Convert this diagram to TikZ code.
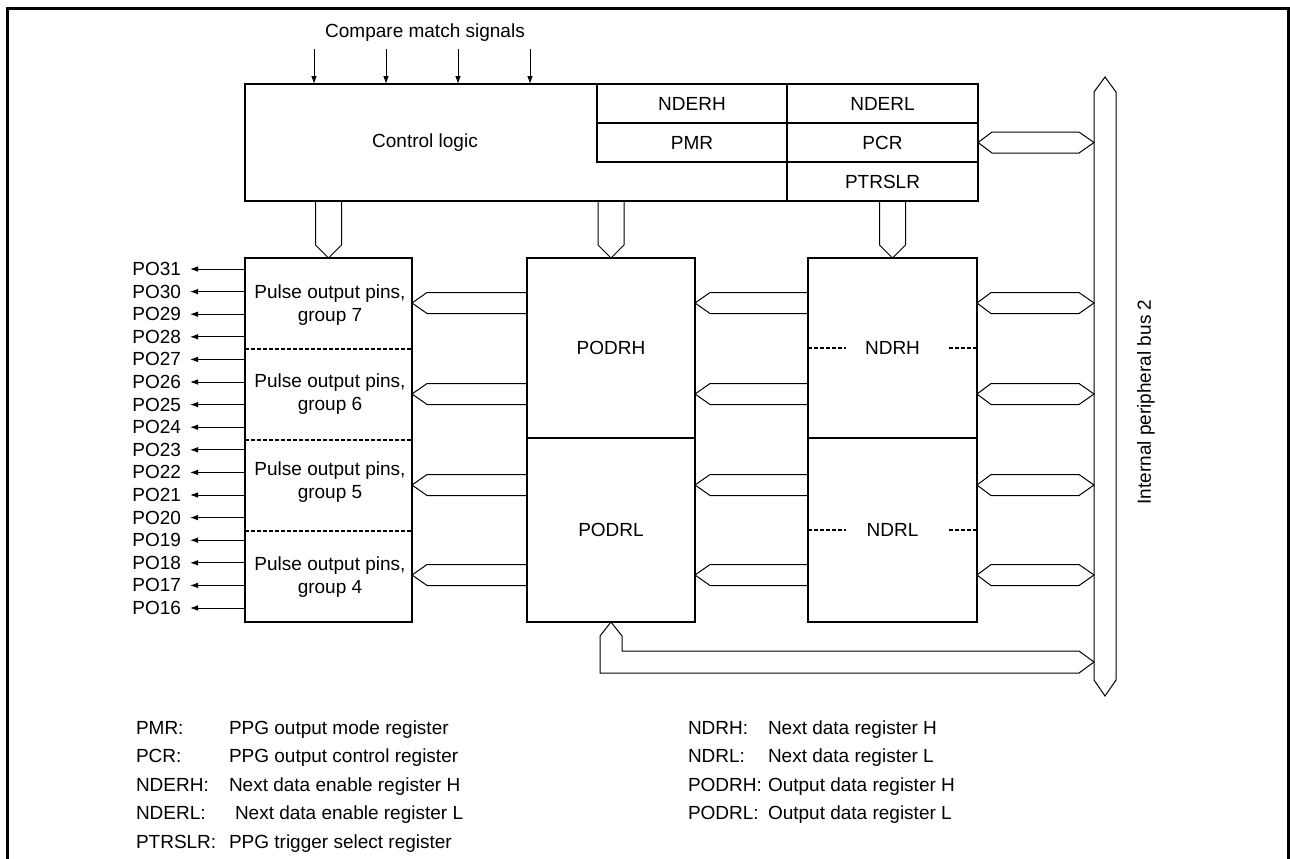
\documentclass[tikz,border=0pt]{standalone}
\usepackage{fontspec}
\setmainfont{Liberation Sans}
\usetikzlibrary{arrows.meta,calc}

\begin{document}
\begin{tikzpicture}[
	x=0.5pt, y=-0.5pt,
	every node/.style={font=\fontsize{9.5}{11.5}\selectfont, inner sep=0pt, outer sep=0pt},
	regbox/.style 2 args={draw, line width=1.35pt, minimum width=#1*0.5pt, minimum height=#2*0.5pt},
	regcell/.style 2 args={draw, line width=0.65pt, minimum width=#1*0.5pt, minimum height=#2*0.5pt},
	busline/.style={line width=0.5pt, line join=miter},
	divline/.style={line width=0.75pt, dash pattern=on 2pt off 1pt},
	sigarrow/.style={line width=0.5pt, -{Latex[length=4pt,width=2.8pt]}},
	legend/.style={anchor=base west}
	]
	\useasboundingbox (0,0) rectangle (1290,858);
	\draw[line width=1.5pt] (7.5,870) -- (7.5,8) -- (1288.5,8) -- (1288.5,870);
	\def\lbus#1#2{
		\draw[busline] ($(#2)+(0,-10.5)$) -- ($(#1)+(15,-10.5)$) -- (#1) --
		($(#1)+(15,10.5)$) -- ($(#2)+(0,10.5)$);
	}
	\def\dbus#1#2{
		\draw[busline] (#1) -- ($(#1)+(14,-10.5)$) -- ($(#2)+(-15,-10.5)$) -- (#2) --
		($(#2)+(-15,10.5)$) -- ($(#1)+(14,10.5)$) -- cycle;
	}
	\def\vbus#1#2{
		\draw[busline] ($(#1)+(-13,0)$) -- ($(#2)+(-13,-13)$) -- (#2) --
		($(#2)+(13,-13)$) -- ($(#1)+(13,0)$);
	}
	\node[regcell={190}{39}] (nderh) at (692,103.5) {NDERH};
	\node[regcell={191}{39}] (nderl) at (882.5,103.5) {NDERL};
	\node[regcell={190}{39}] (pmr) at (692,142.5) {PMR};
	\node[regcell={191}{39}] (pcr) at (882.5,142.5) {PCR};
	\node[regcell={191}{39}] (ptrslr) at (882.5,181.5) {PTRSLR};
	\node[regbox={733}{117}] (ctrl) at (611.5,142.5) {};
	\node (ctrltxt) at (425,143) {Control logic};
	\node[regbox={167}{364}] (pins) at (328.5,440) {};
	\node[regbox={168}{180}] (podrh) at (611,348) {PODRH};
	\node[regbox={168}{184}] (podrl) at (611,530) {PODRL};
	\node[regbox={169}{180}] (ndrh) at (892.5,348) {NDRH};
	\node[regbox={169}{184}] (ndrl) at (892.5,530) {NDRL};
	\foreach \g/\y in {7/305,6/394,5/482,4/577}
		\node[align=center] (grp\g) at (330,\y) {Pulse output pins,\\group \g};
	\foreach \f in {0.25,0.5,0.75}
		\draw[divline] ($(pins.north west)!\f!(pins.south west)$) -- ($(pins.north east)!\f!(pins.south east)$);
	\foreach \n in {ndrh,ndrl} {
		\draw[divline] (\n.west) -- ++(38,0);
		\draw[divline] (\n.east) -- ++(-28,0);
	}
	\node (cms) at (425,33) {Compare match signals};
	\foreach \x in {314,386,458,530} {
		\coordinate (cm\x) at (\x,49);
		\draw[sigarrow] (cm\x) -- (cm\x |- ctrl.north);
	}
	\foreach \n [count=\k from 0] in {31,30,...,16} {
		\node[anchor=east] (po\n) at (181,{269+22.6*\k}) {PO\n};
		\draw[sigarrow] (pins.west |- po\n) -- ([xshift=4.5pt]po\n.east);
	}
	\coordinate (bustip) at (1105,77);
	\coordinate (busend) at (1105,696);
	\coordinate (busw) at (1094,0);
	\draw[busline] (bustip) -- ++(11,15) -- ($(busend)+(11,-16)$) -- (busend) --
		++(-11,-16) -- ($(bustip)+(-11,15)$) -- cycle;
	\node[rotate=90] (buslbl) at (1146,402) {Internal peripheral bus 2};
	\foreach \y [count=\i] in {303,394,485,575}
		\coordinate (row\i) at (0,\y);
	\foreach \i in {1,...,4} {
		\lbus{pins.east |- row\i}{podrh.west |- row\i}
		\lbus{podrh.east |- row\i}{ndrh.west |- row\i}
		\dbus{ndrh.east |- row\i}{busw |- row\i}
	}
	\dbus{pcr.east}{busw |- pcr.east}
	\vbus{ctrl.south -| pins.north}{pins.north}
	\vbus{ctrl.south -| podrh.north}{podrh.north}
	\vbus{ctrl.south -| ndrh.north}{ndrh.north}
	\coordinate (lret) at (0,662);
	\draw[busline] (podrl.south) -- ++(11,14) |- ($(busw |- lret)+(-15,-11)$) -- (busw |- lret) --
		++(-15,11) -| ($(podrl.south)+(-11,14)$) -- cycle;
	\foreach \l/\d/\dx [count=\i from 0] in {PMR:/PPG output mode register/229,
		PCR:/PPG output control register/229,
		NDERH:/Next data enable register H/229,
		NDERL:/Next data enable register L/235,
		PTRSLR:/PPG trigger select register/229} {
		\node[legend] (lkey\i) at (136,{734+28.5*\i}) {\l};
		\node[legend] (ldesc\i) at (\dx,{734+28.5*\i}) {\d};
	}
	\foreach \l/\d [count=\i from 0] in {NDRH:/Next data register H,
		NDRL:/Next data register L,
		PODRH:/Output data register H,
		PODRL:/Output data register L} {
		\node[legend] (rkey\i) at (688,{734+28.5*\i}) {\l};
		\node[legend] (rdesc\i) at (768,{734+28.5*\i}) {\d};
	}
\end{tikzpicture}
\end{document}
